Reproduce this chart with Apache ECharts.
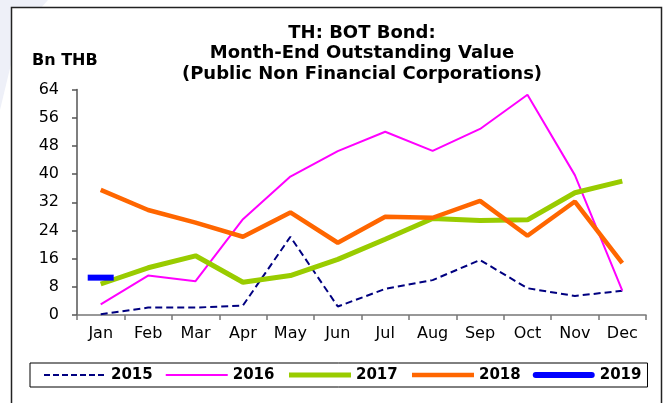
<!DOCTYPE html>
<html>
<head>
<meta charset="utf-8">
<script src="https://cdn.jsdelivr.net/npm/echarts@6/dist/echarts.min.js"></script>
<style>
  html, body { margin: 0; padding: 0; background: #fff; }
  #chart { width: 667px; height: 403px; }
</style>
</head>
<body>
<div id="chart"></div>
<script>
var months = ['Jan', 'Feb', 'Mar', 'Apr', 'May', 'Jun', 'Jul', 'Aug', 'Sep', 'Oct', 'Nov', 'Dec'];
var years = ['2015', '2016', '2017', '2018', '2019'];
var data2015 = [0.2, 2.1, 2.1, 2.7, 22.2, 2.4, 7.4, 9.9, 15.6, 7.6, 5.4, 6.9];
var data2016 = [3.0, 11.2, 9.6, 27.2, 39.3, 46.5, 52.0, 46.6, 52.8, 62.5, 39.7, 6.9];
var data2017 = [8.8, 13.4, 16.8, 9.3, 11.2, 15.8, 21.5, 27.4, 26.8, 27.0, 34.7, 38.0];
var data2018 = [35.5, 29.8, 26.2, 22.2, 29.1, 20.5, 27.9, 27.6, 32.4, 22.5, 32.2, 14.7];
var data2019 = [10.6, null, null, null, null, null, null, null, null, null, null, null];

var font = 'DejaVu Sans';
var chart = echarts.init(document.getElementById('chart'));

// legend: hide the circle that line series put on their legend icon
var noDot = { opacity: 0 };

var option = {
  backgroundColor: '#fff',
  animation: false,
  graphic: [
    // faint swoosh in the corner
    {
      type: 'polygon', z: -10,
      shape: { points: [[0, 0], [48, 0], [30, 20], [12, 60], [0, 110]] },
      style: { fill: '#eef0f8' }
    },
    {
      type: 'rect', z: -5,
      shape: { x: 11.5, y: 7.5, width: 650, height: 420 },
      style: { fill: '#fff', stroke: '#222', lineWidth: 1.5 }
    },
    {
      type: 'text', x: 362, y: 23,
      style: {
        text: 'TH: BOT Bond:\nMonth-End Outstanding Value\n(Public Non Financial Corporations)',
        textAlign: 'center', textVerticalAlign: 'top',
        font: 'bold 18px ' + font, lineHeight: 20.5, fill: '#000'
      }
    },
    {
      type: 'text', x: 32, y: 61,
      style: {
        text: 'Bn THB', textVerticalAlign: 'middle',
        font: 'bold 16px ' + font, fill: '#000'
      }
    }
  ],
  grid: { left: 77, right: 21, top: 89.5, bottom: 88 },
  legend: {
    left: 30, top: 363,
    padding: [4, 6, 4, 13],
    borderColor: '#000', borderWidth: 1,
    itemWidth: 62, itemHeight: 14, itemGap: 12,
    textStyle: { fontFamily: font, fontSize: 15, fontWeight: 'bold', color: '#000', lineHeight: 16 },
    data: [
      { name: '2015', lineStyle: { width: 2, type: [6, 3] }, itemStyle: noDot },
      { name: '2016', lineStyle: { width: 2 }, itemStyle: noDot },
      { name: '2017', lineStyle: { width: 5 }, itemStyle: noDot },
      { name: '2018', lineStyle: { width: 4.5 }, itemStyle: noDot },
      { name: '2019', icon: 'path://M3,0 H59 A3,3 0 0 1 59,6 H3 A3,3 0 0 1 3,0 Z', itemStyle: { color: '#0000ff' } }
    ]
  },
  xAxis: {
    type: 'category',
    data: months,
    axisLine: { lineStyle: { color: '#777', width: 1.5 } },
    axisTick: { show: true, length: 5, lineStyle: { color: '#777', width: 1.5 } },
    axisLabel: { fontFamily: font, fontSize: 16, color: '#000', margin: 11 }
  },
  yAxis: {
    type: 'value',
    min: 0, max: 64, interval: 8,
    splitLine: { show: false },
    axisLine: { show: true, lineStyle: { color: '#555', width: 1.5 } },
    axisTick: { show: true, length: 5, lineStyle: { color: '#555', width: 1.5 } },
    axisLabel: { fontFamily: font, fontSize: 16, color: '#000', margin: 18 }
  },
  series: [
    {
      name: years[0], type: 'line', data: data2015, symbol: 'none',
      lineStyle: { color: '#000080', width: 2, type: [7, 4] }, itemStyle: { color: '#000080' }
    },
    {
      name: years[1], type: 'line', data: data2016, symbol: 'none',
      lineStyle: { color: '#ff00ff', width: 2 }, itemStyle: { color: '#ff00ff' }
    },
    {
      name: years[2], type: 'line', data: data2017, symbol: 'none',
      lineStyle: { color: '#99cc00', width: 5 }, itemStyle: { color: '#99cc00' }
    },
    {
      name: years[3], type: 'line', data: data2018, symbol: 'none',
      lineStyle: { color: '#ff6600', width: 4.5 }, itemStyle: { color: '#ff6600' }
    },
    {
      name: years[4], type: 'line', data: data2019,
      symbol: 'rect', symbolSize: [26, 6], showAllSymbol: true,
      lineStyle: { color: '#0000ff', width: 6 }, itemStyle: { color: '#0000ff' }
    }
  ]
};
chart.setOption(option);
</script>
</body>
</html>
